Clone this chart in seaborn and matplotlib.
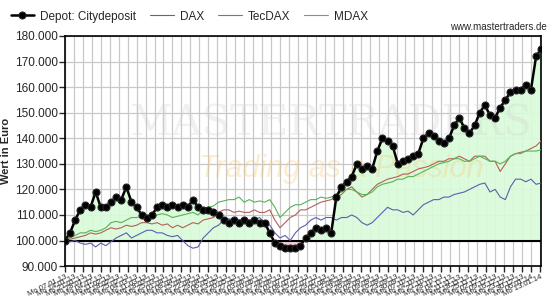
import numpy as np
import pandas as pd
import matplotlib
matplotlib.use("Agg")
import matplotlib.pyplot as plt
import matplotlib.dates as mdates
from matplotlib.ticker import FuncFormatter
import seaborn as sns

# ---- data (values in thousand Euro, sampled every 4 days from 07.01.2013) ----
start_date = "2013-01-07"
depot = [100, 103, 108, 112, 114, 113, 119, 113, 113, 115,
         117, 116, 121, 115, 113, 110, 109, 110, 113, 114,
         113, 114, 113, 114, 113, 116, 113, 112, 112, 111,
         110, 108, 107, 108, 107, 108, 107, 108, 107, 107,
         103, 99, 98, 97, 97, 97, 98, 101, 103, 105,
         104, 105, 103, 117, 121, 123, 125, 130, 128, 129,
         128, 135, 140, 139, 137, 130, 131, 132, 133, 134,
         140, 142, 141, 139, 138, 140, 145, 148, 144, 142,
         145, 150, 153, 149, 148, 152, 155, 158, 159, 159,
         161, 159, 172, 175]
dax = [100, 99.5, 100, 99, 98.5, 99, 97.5, 99, 98, 99.5,
       101, 102, 103, 101, 102, 103, 104, 104, 103, 103,
       102, 101.5, 102, 100, 98, 97, 97.5, 101, 103, 105,
       106, 108, 108.5, 108, 108, 108.5, 108, 108, 109, 107,
       106, 103, 101, 102, 100, 103, 105, 106, 108, 109,
       108, 109, 109, 108, 109, 109, 110, 109, 107, 106,
       107, 109, 111, 113, 112, 112, 111, 111.5, 110, 112,
       114, 115, 116, 116, 117, 117, 118, 118.5, 119, 120,
       121, 122, 122.5, 119, 120, 117, 116, 121, 124, 124,
       123, 124, 122, 122.5]
tecdax = [100, 100.5, 101, 101.5, 102, 103, 102.5, 103, 104, 105,
          104.5, 105, 106, 105.5, 106, 107, 107, 106.5, 107, 106,
          106.5, 105, 106, 105, 106, 107, 106.5, 108, 108.5, 109,
          111, 112, 112, 111, 111.5, 111, 111, 112, 111, 111,
          112, 108, 105, 107, 109, 110, 112, 112, 113, 114,
          115, 115.5, 116, 117, 118, 120, 121, 119, 117, 118,
          120, 122, 123, 124, 124.5, 125, 126, 126, 127, 128,
          128.5, 129, 130, 131, 131, 132, 132, 133, 132, 131,
          133, 133, 133, 131, 131, 127, 130, 133, 134, 134.5,
          135, 136, 137, 139]
mdax = [100, 101, 102, 103, 103, 104, 103.5, 104, 105, 107,
        107.5, 107, 108, 109, 109, 109.5, 110, 109, 110, 110.5,
        110, 109, 109.5, 110, 110.5, 111, 110, 112, 113, 113.5,
        115, 115.5, 116, 116, 117, 115, 116, 115, 115.5, 115,
        116, 113, 109, 111, 113, 114, 114, 115, 116, 116,
        117, 116.5, 117, 118, 119, 120, 120, 119, 118, 118,
        119, 121, 122, 122.5, 123, 124, 124, 125, 125, 126,
        127, 128, 129, 130, 130.5, 131, 132, 132, 131, 131,
        132, 133, 132, 131, 131, 130, 131, 133, 134, 134,
        135, 135, 135, 135.5]
series_names = ["Depot: Citydeposit", "DAX", "TecDAX", "MDAX"]
colors = {"Depot: Citydeposit": "#000000", "DAX": "#5b5fb0",
          "TecDAX": "#b4605a", "MDAX": "#55b455"}
y_ticks = [90, 100, 110, 120, 130, 140, 150, 160, 170, 180]
baseline = 100

dates = pd.date_range(start_date, periods=len(depot), freq="4D")
df = pd.DataFrame({"Datum": dates, "Depot: Citydeposit": depot,
                   "DAX": dax, "TecDAX": tecdax, "MDAX": mdax})

sns.set_style("white")
plt.rcParams["font.family"] = ["Liberation Sans", "DejaVu Sans"]

fig = plt.figure(figsize=(5.5, 3.0), dpi=100)
ax = fig.add_axes([0.118, 0.113, 0.866, 0.767])

# grid
ax.set_axisbelow(True)
ax.grid(True, color="#c8c8c8", lw=0.9)

# fills relative to start value
d = np.array(depot, dtype=float)
ax.fill_between(df["Datum"], baseline, d, where=d >= baseline, interpolate=True,
                color="#d9fbd9", alpha=0.9, lw=0, zorder=1)
ax.fill_between(df["Datum"], baseline, d, where=d < baseline, interpolate=True,
                color="#f7caca", alpha=0.9, lw=0, zorder=1)

# watermark
ax.text(0.56, 0.62, "MASTERTRADERS", transform=ax.transAxes, ha="center", va="center",
        fontsize=30, family="DejaVu Serif", color="#d0d0d0", alpha=0.3, zorder=1)
ax.text(0.58, 0.42, "Trading as a Passion", transform=ax.transAxes, ha="center",
        va="center", fontsize=22, style="italic", color="#f7c66a", alpha=0.3, zorder=1)

for name in ["DAX", "TecDAX", "MDAX"]:
    sns.lineplot(data=df, x="Datum", y=name, ax=ax, color=colors[name], lw=0.8,
                 label=name, zorder=3)

ax.axhline(baseline, color="black", lw=1.5, zorder=2)

sns.lineplot(data=df, x="Datum", y="Depot: Citydeposit", ax=ax, color="black",
             lw=1.8, marker="o", markersize=5, markeredgecolor="#222222",
             markeredgewidth=0.8, label="Depot: Citydeposit", zorder=4)

ax.set_ylim(y_ticks[0], y_ticks[-1])
ax.set_yticks(y_ticks)
ax.yaxis.set_major_formatter(FuncFormatter(lambda v, p: f"{v:.0f}.000"))
x0 = pd.Timestamp(start_date)
ax.set_xlim(x0, x0 + pd.Timedelta(days=372))
ax.xaxis.set_major_locator(mdates.WeekdayLocator(byweekday=mdates.MO))
ax.xaxis.set_major_formatter(mdates.DateFormatter("Mo %d.%m.%y"))
plt.setp(ax.get_xticklabels(), rotation=25, ha="right", rotation_mode="anchor",
         fontsize=5.5)
ax.tick_params(axis="x", length=4, width=1, direction="out", pad=1.5, bottom=True)
ax.tick_params(axis="y", length=4, width=1, direction="out", labelsize=8.5, pad=1, left=True)
for s in ax.spines.values():
    s.set_color("black")
    s.set_linewidth(1.2)

ax.set_xlabel("")
ax.set_ylabel("Wert in Euro", fontsize=8, fontweight="bold", labelpad=3)

# legend on top
h, l = ax.get_legend_handles_labels()
order = [l.index(n) for n in series_names]
leg = fig.legend([h[i] for i in order], [l[i] for i in order], loc="upper left",
                 bbox_to_anchor=(0.0, 1.0), ncol=4, frameon=False, fontsize=8.5,
                 handlelength=2.0, columnspacing=1.2, handletextpad=0.5)
ax.get_legend().remove()

fig.text(0.995, 0.895, "www.mastertraders.de", ha="right", va="bottom", fontsize=7)

fig.savefig("out.png", dpi=100)
